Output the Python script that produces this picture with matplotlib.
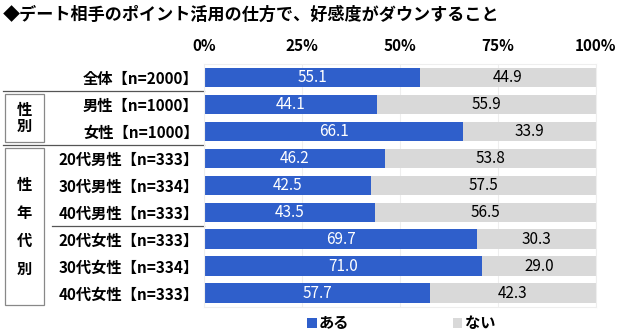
import matplotlib.pyplot as plt
import matplotlib.transforms as mtransforms
from matplotlib.patches import Rectangle

plt.rcParams['font.family'] = ['Noto Sans CJK JP', 'DejaVu Sans']

title = "◆デート相手のポイント活用の仕方で、好感度がダウンすること"
categories = ["全体【n=2000】", "男性【n=1000】", "女性【n=1000】",
              "20代男性【n=333】", "30代男性【n=334】", "40代男性【n=333】",
              "20代女性【n=333】", "30代女性【n=334】", "40代女性【n=333】"]
aru = [55.1, 44.1, 66.1, 46.2, 42.5, 43.5, 69.7, 71.0, 57.7]
nai = [44.9, 55.9, 33.9, 53.8, 57.5, 56.5, 30.3, 29.0, 42.3]
series_names = ["ある", "ない"]
tick_vals = [0, 25, 50, 75, 100]
tick_labels = ["0%", "25%", "50%", "75%", "100%"]

blue = "#2F5FCB"
gray = "#D9D9D9"

fig = plt.figure(figsize=(6.4, 3.35), dpi=100)
ax = fig.add_axes([0.319, 0.085, 0.612, 0.724])

y = list(range(len(categories)))
b1 = ax.barh(y, aru, height=0.72, color=blue, label=series_names[0], zorder=2)
b2 = ax.barh(y, nai, left=aru, height=0.72, color=gray, label=series_names[1], zorder=2)

for i in y:
    ax.text(aru[i] / 2, i, f"{aru[i]:.1f}", color="white", ha="center",
            va="center", fontsize=11, zorder=3)
    ax.text(aru[i] + nai[i] / 2, i, f"{nai[i]:.1f}", color="black", ha="center",
            va="center", fontsize=11, zorder=3)

ax.set_xlim(0, 100)
ax.set_ylim(len(categories) - 0.5, -0.5)
ax.xaxis.tick_top()
ax.set_xticks(tick_vals)
ax.set_xticklabels(tick_labels, fontsize=11, fontweight="bold")
ax.set_yticks(y)
ax.set_yticklabels(categories, fontsize=11, fontweight="bold")
ax.tick_params(axis="x", length=0, pad=7)
ax.tick_params(axis="y", length=0, pad=4)
ax.grid(axis="x", color="#eeeeee", linewidth=0.8, zorder=0)
for s in ax.spines.values():
    s.set_color("#eeeeee")
    s.set_linewidth(0.8)

# group separators and side boxes: x in figure units, y in row units
trans = mtransforms.blended_transform_factory(fig.transFigure, ax.transData)
x_axis = 0.319
for yy, x0 in [(0.5, 3 / 640), (2.5, 3 / 640), (5.5, 52 / 640)]:
    ax.plot([x0, x_axis], [yy, yy], transform=trans, color="#555555",
            linewidth=0.9, clip_on=False)

bx0, bx1 = 5 / 640, 44 / 640
for top, bot in [(0.6, 2.38), (2.6, 8.45)]:
    ax.add_patch(Rectangle((bx0, top), bx1 - bx0, bot - top, transform=trans,
                           fill=False, edgecolor="#888888", linewidth=0.9,
                           clip_on=False))

xc = (bx0 + bx1) / 2
ax.text(xc, 1.49, "性\n別", transform=trans, ha="center", va="center",
        fontsize=11, fontweight="bold", linespacing=1.0)
for k, ch in enumerate("性年代別"):
    ax.text(xc, 4.0 + k * 1.03, ch, transform=trans, ha="center", va="center",
            fontsize=11, fontweight="bold")

fig.text(0.005, 0.955, title, fontsize=12.3, fontweight="bold", ha="left", va="center")

fig.legend(handles=[b1, b2], loc="center", bbox_to_anchor=(0.627, 0.035), ncol=2,
           frameon=False, handlelength=0.6, handleheight=0.6, handletextpad=0.15,
           columnspacing=6.8, prop={"size": 11, "weight": "bold"})

fig.savefig("out.png", dpi=100)
